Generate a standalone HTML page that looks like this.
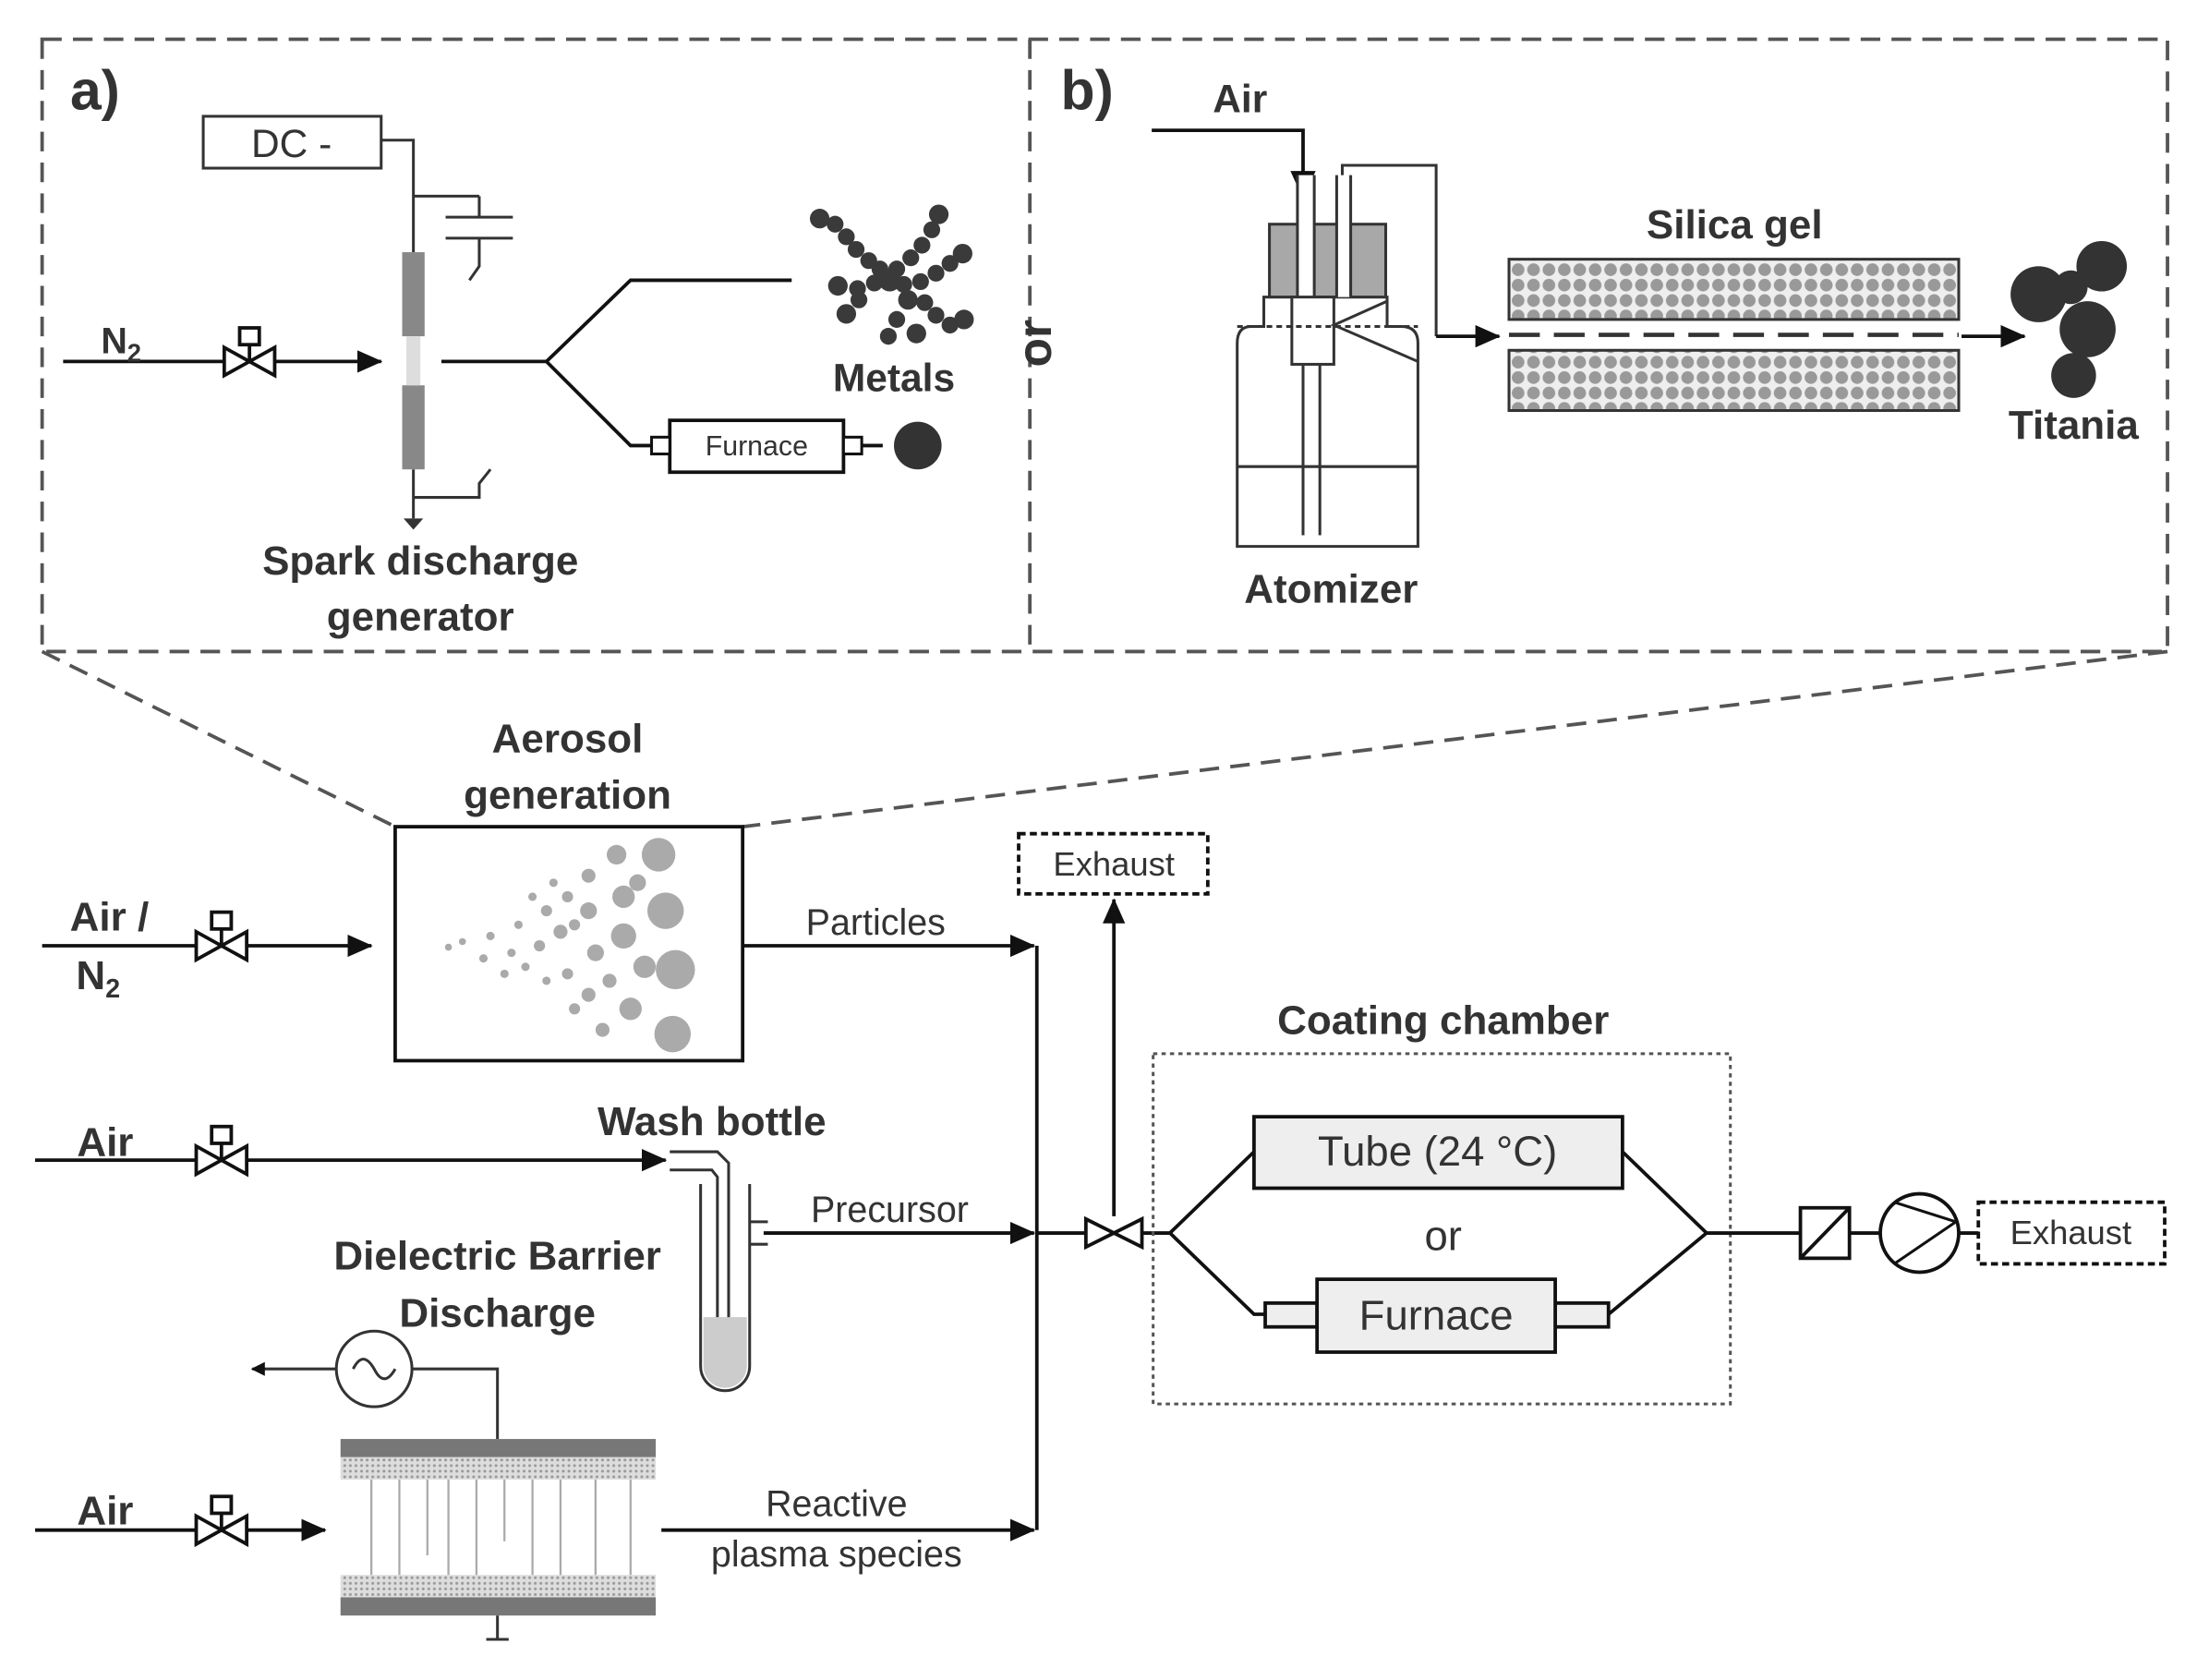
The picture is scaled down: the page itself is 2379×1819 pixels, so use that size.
<!DOCTYPE html>
<html><head><meta charset="utf-8"><style>html,body{margin:0;padding:0;background:#fff}svg{display:block}text{font-family:"Liberation Sans",sans-serif;fill:#333}</style></head><body>
<svg width="2379" height="1819" viewBox="0 0 1568 1199" xmlns="http://www.w3.org/2000/svg">
<defs>
<marker id="ar" markerWidth="10" markerHeight="10" refX="9" refY="5" orient="auto" markerUnits="userSpaceOnUse" viewBox="0 0 10 10"><path d="M0,0L10,5L0,10z" fill="#111"/></marker>
<marker id="ar2" markerWidth="18" markerHeight="16" refX="17" refY="8" orient="auto" markerUnits="userSpaceOnUse"><path d="M0,0L18,8L0,16z" fill="#111"/></marker>
<pattern id="dots" width="11" height="11" patternUnits="userSpaceOnUse"><rect width="11" height="11" fill="#eee"/><circle cx="5.5" cy="5.5" r="4.5" fill="#999"/></pattern>
<pattern id="hatch" width="4" height="4" patternUnits="userSpaceOnUse"><rect width="4" height="4" fill="#ddd"/><circle cx="2" cy="2" r="1" fill="#999"/></pattern>
<g id="valve"><path d="M-18,-10L18,10L18,-10L-18,10z" fill="#fff" stroke="#111" stroke-width="2.5"/><line x1="0" y1="0" x2="0" y2="-12" stroke="#111" stroke-width="2.5"/><rect x="-7" y="-24" width="14" height="12" fill="#fff" stroke="#111" stroke-width="2.5"/></g>
</defs>
<g fill="none" stroke="#555" stroke-width="2.5" stroke-dasharray="14,8">
<rect x="30" y="28" width="1517" height="437"/>
<line x1="735" y1="28" x2="735" y2="465"/>
<line x1="30" y1="465" x2="282" y2="590"/>
<line x1="1547" y1="465" x2="530" y2="590"/>
</g>
<text x="50" y="78" font-size="40" font-weight="bold">a)</text>
<text x="757" y="78" font-size="40" font-weight="bold">b)</text>
<!-- a -->
<rect x="145" y="83" width="127" height="37" fill="#fff" stroke="#333" stroke-width="2"/>
<text x="208" y="112" font-size="28" text-anchor="middle">DC -</text>
<g stroke="#333" stroke-width="2" fill="none">
<polyline points="272,100 295,100 295,180"/>
<line x1="295" y1="140" x2="342" y2="140"/><line x1="342" y1="140" x2="342" y2="155"/>
<line x1="318" y1="155" x2="366" y2="155"/><line x1="318" y1="170" x2="366" y2="170"/>
<polyline points="342,170 342,190 335,200"/>
<polyline points="295,335 295,370"/>
<polyline points="295,355 342,355 342,345 350,335"/>
</g>
<path d="M288,370L302,370L295,378z" fill="#333"/>
<rect x="287" y="180" width="16" height="60" fill="#888"/>
<rect x="287" y="275" width="16" height="60" fill="#888"/>
<rect x="290" y="240" width="10" height="35" fill="#ddd"/>
<line x1="45" y1="258" x2="272" y2="258" stroke="#111" stroke-width="2.5" marker-end="url(#ar2)"/>
<use href="#valve" x="178" y="258"/>
<text x="72" y="252" font-size="26" font-weight="bold">N<tspan font-size="18" dy="6">2</tspan></text>
<g stroke="#111" stroke-width="2.5" fill="none">
<polyline points="315,258 390,258 450,200 565,200"/>
<polyline points="390,258 450,318 478,318"/>
<line x1="602" y1="318" x2="630" y2="318"/>
</g>
<rect x="478" y="300" width="124" height="37" fill="#fff" stroke="#111" stroke-width="2.5"/>
<rect x="465" y="312" width="13" height="12" fill="#fff" stroke="#111" stroke-width="2"/>
<rect x="602" y="312" width="13" height="12" fill="#fff" stroke="#111" stroke-width="2"/>
<text x="540" y="325" font-size="20" text-anchor="middle">Furnace</text>
<circle cx="655" cy="318" r="17" fill="#333"/>
<g fill="#3a3a3a" transform="translate(0,-12)">
<circle cx="585" cy="168" r="7"/><circle cx="596" cy="172" r="6"/><circle cx="604" cy="181" r="6"/><circle cx="611" cy="190" r="6"/><circle cx="620" cy="198" r="6"/><circle cx="628" cy="204" r="6"/>
<circle cx="670" cy="165" r="7"/><circle cx="665" cy="176" r="6"/><circle cx="658" cy="187" r="6"/><circle cx="650" cy="196" r="6"/><circle cx="640" cy="204" r="6"/>
<circle cx="687" cy="193" r="7"/><circle cx="678" cy="200" r="6"/><circle cx="668" cy="207" r="6"/><circle cx="657" cy="213" r="6"/><circle cx="645" cy="215" r="6"/>
<circle cx="688" cy="240" r="7"/><circle cx="678" cy="244" r="6"/><circle cx="668" cy="237" r="6"/><circle cx="660" cy="228" r="6"/>
<circle cx="654" cy="250" r="7"/><circle cx="634" cy="252" r="6"/><circle cx="640" cy="240" r="6"/>
<circle cx="598" cy="216" r="7"/><circle cx="612" cy="218" r="6"/><circle cx="624" cy="214" r="6"/><circle cx="604" cy="236" r="7"/><circle cx="613" cy="226" r="6"/>
<circle cx="635" cy="212" r="8"/><circle cx="648" cy="226" r="7"/>
</g>
<text x="638" y="279" font-size="28" font-weight="bold" text-anchor="middle">Metals</text>
<text x="300" y="410" font-size="29" font-weight="bold" text-anchor="middle">Spark discharge</text>
<text x="300" y="450" font-size="29" font-weight="bold" text-anchor="middle">generator</text>
<text x="750" y="245" font-size="34" font-weight="bold" text-anchor="middle" transform="rotate(-90 750 245)">or</text>
<!-- b -->
<text x="885" y="80" font-size="28" font-weight="bold" text-anchor="middle">Air</text>
<polyline points="822,93 930,93 930,125" fill="none" stroke="#111" stroke-width="2.5"/>
<path d="M921,122L939,122L930,142z" fill="#111"/>
<path d="M883,245 Q883,233 893,233 L902,233 L902,212 L990,212 L990,233 L1000,233 Q1012,233 1012,245 L1012,390 L883,390 Z" fill="#fff" stroke="#333" stroke-width="2"/>
<rect x="906" y="160" width="83" height="52" fill="#a8a8a8" stroke="#333" stroke-width="2"/>
<rect x="926" y="125" width="12" height="87" fill="#fff"/>
<rect x="954" y="125" width="10" height="87" fill="#fff"/>
<rect x="922" y="212" width="30" height="48" fill="#fff" stroke="#333" stroke-width="2"/>
<g stroke="#333" stroke-width="2" fill="none">
<polyline points="958,125 958,118 1025,118 1025,240"/>
<line x1="926" y1="125" x2="926" y2="212"/><line x1="938" y1="125" x2="938" y2="212"/>
<line x1="954" y1="125" x2="954" y2="212"/><line x1="964" y1="125" x2="964" y2="212"/>
<line x1="930" y1="260" x2="930" y2="382"/><line x1="942" y1="260" x2="942" y2="382"/>
<line x1="883" y1="333" x2="1012" y2="333"/>
<polyline points="990,215 952,232 1012,258"/>
<line x1="883" y1="233" x2="1012" y2="233" stroke-dasharray="4,3"/>
</g>
<line x1="1025" y1="240" x2="1070" y2="240" stroke="#111" stroke-width="2.5" marker-end="url(#ar2)"/>
<text x="950" y="430" font-size="29" font-weight="bold" text-anchor="middle">Atomizer</text>
<text x="1238" y="170" font-size="29" font-weight="bold" text-anchor="middle">Silica gel</text>
<rect x="1077" y="185" width="321" height="43" fill="url(#dots)" stroke="#333" stroke-width="2"/>
<rect x="1077" y="250" width="321" height="43" fill="url(#dots)" stroke="#333" stroke-width="2"/>
<line x1="1077" y1="239" x2="1398" y2="239" stroke="#333" stroke-width="3" stroke-dasharray="22,10"/>
<line x1="1400" y1="240" x2="1445" y2="240" stroke="#111" stroke-width="2.5" marker-end="url(#ar2)"/>
<g fill="#333"><circle cx="1455" cy="210" r="20"/><circle cx="1500" cy="190" r="18"/><circle cx="1490" cy="235" r="20"/><circle cx="1480" cy="268" r="16"/><circle cx="1478" cy="205" r="12"/></g>
<text x="1480" y="313" font-size="29" font-weight="bold" text-anchor="middle">Titania</text>
<!-- bottom -->
<text x="405" y="537" font-size="29" font-weight="bold" text-anchor="middle">Aerosol</text>
<text x="405" y="577" font-size="29" font-weight="bold" text-anchor="middle">generation</text>
<rect x="282" y="590" width="248" height="167" fill="#fff" stroke="#111" stroke-width="2.5"/>
<g fill="#aaa">
<circle cx="470" cy="610" r="12"/><circle cx="475" cy="650" r="13"/><circle cx="482" cy="692" r="14"/><circle cx="480" cy="738" r="13"/><circle cx="445" cy="640" r="8"/><circle cx="445" cy="668" r="9"/><circle cx="450" cy="720" r="8"/><circle cx="440" cy="610" r="7"/><circle cx="460" cy="690" r="8"/>
<circle cx="420" cy="625" r="5"/><circle cx="420" cy="650" r="6"/><circle cx="425" cy="680" r="6"/><circle cx="420" cy="710" r="5"/><circle cx="405" cy="640" r="4"/><circle cx="400" cy="665" r="5"/><circle cx="405" cy="695" r="4"/><circle cx="390" cy="650" r="4"/><circle cx="385" cy="675" r="4"/><circle cx="390" cy="700" r="3"/><circle cx="370" cy="660" r="3"/><circle cx="365" cy="680" r="3"/><circle cx="350" cy="668" r="3"/><circle cx="345" cy="684" r="3"/><circle cx="330" cy="672" r="2.5"/><circle cx="320" cy="676" r="2.5"/><circle cx="375" cy="690" r="3"/><circle cx="395" cy="630" r="3"/><circle cx="410" cy="720" r="4"/>
<circle cx="435" cy="700" r="5"/><circle cx="430" cy="735" r="5"/><circle cx="455" cy="630" r="6"/><circle cx="410" cy="660" r="4"/><circle cx="360" cy="695" r="3"/><circle cx="380" cy="640" r="3"/>
</g>
<text x="78" y="664" font-size="29" font-weight="bold" text-anchor="middle">Air /</text>
<text x="70" y="706" font-size="29" font-weight="bold" text-anchor="middle">N<tspan font-size="19" dy="6">2</tspan></text>
<line x1="30" y1="675" x2="265" y2="675" stroke="#111" stroke-width="2.5" marker-end="url(#ar2)"/>
<use href="#valve" x="158" y="675"/>
<line x1="530" y1="675" x2="738" y2="675" stroke="#111" stroke-width="2.5" marker-end="url(#ar2)"/>
<text x="625" y="667" font-size="26" text-anchor="middle">Particles</text>
<line x1="740" y1="675" x2="740" y2="1092" stroke="#111" stroke-width="2.5"/>
<text x="75" y="825" font-size="29" font-weight="bold" text-anchor="middle">Air</text>
<line x1="25" y1="828" x2="475" y2="828" stroke="#111" stroke-width="2.5" marker-end="url(#ar2)"/>
<use href="#valve" x="158" y="828"/>
<text x="508" y="810" font-size="29" font-weight="bold" text-anchor="middle">Wash bottle</text>
<g stroke="#333" stroke-width="2" fill="none">
<path d="M500,845 L500,975 A17.5,17.5 0 0 0 535,975 L535,845"/>
<polyline points="478,822 512,822 520,830 520,960"/><polyline points="478,835 508,835 512,840 512,960"/>
<line x1="535" y1="872" x2="548" y2="872"/><line x1="535" y1="888" x2="548" y2="888"/>
</g>
<path d="M502,940 L533,940 L533,975 A15.5,15.5 0 0 1 502,975Z" fill="#ccc"/>
<line x1="545" y1="880" x2="738" y2="880" stroke="#111" stroke-width="2.5" marker-end="url(#ar2)"/>
<text x="635" y="872" font-size="26" text-anchor="middle">Precursor</text>
<text x="355" y="906" font-size="29" font-weight="bold" text-anchor="middle">Dielectric Barrier</text>
<text x="355" y="947" font-size="29" font-weight="bold" text-anchor="middle">Discharge</text>
<circle cx="267" cy="977" r="27" fill="#fff" stroke="#333" stroke-width="2"/>
<path d="M252,977 q7,-14 15,0 q7,14 15,0" fill="none" stroke="#333" stroke-width="2"/>
<line x1="240" y1="977" x2="180" y2="977" stroke="#333" stroke-width="2" marker-end="url(#ar)"/>
<polyline points="294,977 355,977 355,1027" fill="none" stroke="#333" stroke-width="2"/>
<rect x="243" y="1027" width="225" height="13" fill="#777"/>
<rect x="243" y="1040" width="225" height="16" fill="url(#hatch)"/>
<rect x="243" y="1124" width="225" height="16" fill="url(#hatch)"/>
<rect x="243" y="1140" width="225" height="13" fill="#777"/>
<g stroke="#aaa" stroke-width="1.5"><line x1="265" y1="1056" x2="265" y2="1124"/><line x1="285" y1="1056" x2="285" y2="1124"/><line x1="305" y1="1056" x2="305" y2="1110"/><line x1="320" y1="1056" x2="320" y2="1124"/><line x1="340" y1="1056" x2="340" y2="1124"/><line x1="360" y1="1056" x2="360" y2="1100"/><line x1="380" y1="1056" x2="380" y2="1124"/><line x1="400" y1="1056" x2="400" y2="1124"/><line x1="425" y1="1056" x2="425" y2="1124"/><line x1="450" y1="1056" x2="450" y2="1124"/></g>
<line x1="355" y1="1153" x2="355" y2="1170" stroke="#333" stroke-width="2"/>
<line x1="347" y1="1170" x2="363" y2="1170" stroke="#333" stroke-width="2"/>
<text x="75" y="1088" font-size="29" font-weight="bold" text-anchor="middle">Air</text>
<line x1="25" y1="1092" x2="232" y2="1092" stroke="#111" stroke-width="2.5" marker-end="url(#ar2)"/>
<use href="#valve" x="158" y="1092"/>
<line x1="472" y1="1092" x2="738" y2="1092" stroke="#111" stroke-width="2.5" marker-end="url(#ar2)"/>
<text x="597" y="1082" font-size="26" text-anchor="middle">Reactive</text>
<text x="597" y="1118" font-size="26" text-anchor="middle">plasma species</text>
<line x1="740" y1="880" x2="835" y2="880" stroke="#111" stroke-width="2.5"/>
<line x1="795" y1="868" x2="795" y2="642" stroke="#111" stroke-width="2.5" marker-end="url(#ar2)"/>
<path d="M775,870L815,890L815,870L775,890z" fill="#fff" stroke="#111" stroke-width="2.5"/>
<rect x="727" y="595" width="135" height="43" fill="#fff" stroke="#111" stroke-width="2.5" stroke-dasharray="5,3"/>
<text x="795" y="625" font-size="24" text-anchor="middle">Exhaust</text>
<text x="1030" y="738" font-size="29" font-weight="bold" text-anchor="middle">Coating chamber</text>
<rect x="823" y="752" width="412" height="250" fill="none" stroke="#555" stroke-width="2" stroke-dasharray="3,3"/>
<g stroke="#111" stroke-width="2.5" fill="none">
<polyline points="835,880 895,822"/><polyline points="835,880 895,938 903,938"/>
<polyline points="1158,822 1218,880 1148,938"/>
<line x1="1218" y1="880" x2="1285" y2="880"/><line x1="1320" y1="880" x2="1342" y2="880"/><line x1="1398" y1="880" x2="1412" y2="880"/>
</g>
<rect x="895" y="797" width="263" height="51" fill="#eee" stroke="#111" stroke-width="2.5"/>
<text x="1026" y="832" font-size="30" text-anchor="middle">Tube (24 °C)</text>
<text x="1030" y="892" font-size="30" text-anchor="middle">or</text>
<rect x="903" y="930" width="37" height="17" fill="#eee" stroke="#111" stroke-width="2.5"/>
<rect x="1110" y="930" width="38" height="17" fill="#eee" stroke="#111" stroke-width="2.5"/>
<rect x="940" y="913" width="170" height="52" fill="#eee" stroke="#111" stroke-width="2.5"/>
<text x="1025" y="949" font-size="30" text-anchor="middle">Furnace</text>
<rect x="1285" y="862" width="35" height="36" fill="#fff" stroke="#111" stroke-width="2.5"/>
<line x1="1285" y1="898" x2="1320" y2="862" stroke="#111" stroke-width="2.5"/>
<circle cx="1370" cy="880" r="28" fill="#fff" stroke="#111" stroke-width="2.5"/>
<polyline points="1352,858 1396,872 1352,902" fill="none" stroke="#111" stroke-width="2"/>
<rect x="1412" y="858" width="133" height="44" fill="#fff" stroke="#111" stroke-width="2.5" stroke-dasharray="5,3"/>
<text x="1478" y="888" font-size="24" text-anchor="middle">Exhaust</text>
</svg>
</body></html>
